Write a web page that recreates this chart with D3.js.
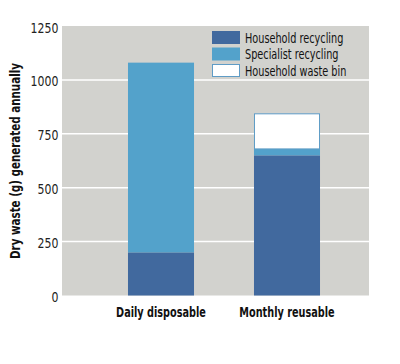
<!DOCTYPE html>
<html>
<head>
<meta charset="utf-8">
<script src="https://cdn.jsdelivr.net/npm/d3@7"></script>
<style>
  html, body { margin: 0; padding: 0; background: #ffffff; }
  svg { display: block; }
  text { font-family: 'DejaVu Sans Condensed', 'DejaVu Sans', sans-serif; font-stretch: condensed; }
</style>
</head>
<body>
<svg id="chart" width="400" height="364"></svg>
<script>
const categories = ["Daily disposable", "Monthly reusable"];
const seriesNames = ["Household recycling", "Specialist recycling", "Household waste bin"];
const householdRecycling = [200, 650];
const specialistRecycling = [880, 30];
const householdWasteBin = [0, 165];
const yTicks = [0, 250, 500, 750, 1000, 1250];

const colors = ["#41699e", "#53a2cb", "#ffffff"];
const strokes = [null, null, "#5f9cc6"];

const svg = d3.select("#chart");

const plot = { left: 62, right: 369, top: 26, bottom: 295.5 };

const y = d3.scaleLinear().domain([0, 1250]).range([plot.bottom, plot.top]);
const x = d3.scaleBand().domain(categories).range([98, 350]).paddingInner(0.476).paddingOuter(0.238);

// background
svg.append("rect").attr("x", plot.left).attr("y", plot.top)
  .attr("width", plot.right - plot.left).attr("height", plot.bottom - plot.top)
  .attr("fill", "#d2d2ce");

// gridlines
svg.append("g").selectAll("line").data(yTicks.filter(d => d > 0 && d < 1250)).join("line")
  .attr("x1", plot.left).attr("x2", plot.right)
  .attr("y1", d => y(d)).attr("y2", d => y(d))
  .attr("stroke", "#ffffff").attr("stroke-width", 1.5);

// y axis
const yAxis = d3.axisLeft(y).tickValues(yTicks).tickFormat(d3.format("d")).tickSize(0).tickPadding(4);
const ga = svg.append("g").attr("transform", `translate(${plot.left},0)`).call(yAxis);
ga.select(".domain").remove();
ga.selectAll("text").attr("font-family", null).attr("font-size", 13.5).attr("fill", "#222")
  .attr("dy", "0.45em").attr("transform", "scale(0.9,1)");

// stacked data
const rows = categories.map((c, i) => ({
  cat: c,
  "Household recycling": householdRecycling[i],
  "Specialist recycling": specialistRecycling[i],
  "Household waste bin": householdWasteBin[i]
}));
const stack = d3.stack().keys(seriesNames)(rows);

stack.forEach((layer, li) => {
  svg.append("g").selectAll("rect").data(layer.filter(d => d[1] - d[0] > 0)).join("rect")
    .attr("x", d => x(d.data.cat) + (strokes[li] ? 0.5 : 0))
    .attr("width", d => x.bandwidth() - (strokes[li] ? 1 : 0))
    .attr("y", d => y(d[1]) + (strokes[li] ? 0.5 : 0))
    .attr("height", d => y(d[0]) - y(d[1]) - (strokes[li] ? 0.5 : 0))
    .attr("fill", colors[li])
    .attr("stroke", strokes[li] || "none")
    .attr("stroke-width", 1);
});

// x axis labels
const xAxis = d3.axisBottom(x).tickSize(0).tickPadding(12);
const gx = svg.append("g").attr("transform", `translate(0,${plot.bottom})`).call(xAxis);
gx.select(".domain").remove();
gx.selectAll("text").attr("font-family", null).attr("font-size", 13.5)
  .attr("font-weight", "bold").attr("fill", "#111").attr("transform", "scale(0.8,1)");

// y title
svg.append("text")
  .attr("transform", `translate(20,161) rotate(-90) scale(0.85,1)`)
  .attr("text-anchor", "middle")
  .attr("font-size", 13.5).attr("font-weight", "bold")
  .attr("fill", "#111")
  .text("Dry waste (g) generated annually");

// legend
const legend = svg.append("g").attr("transform", "translate(212,31)");
seriesNames.forEach((name, i) => {
  const g = legend.append("g").attr("transform", `translate(0,${i * 16.5})`);
  g.append("rect").attr("x", strokes[i] ? 0.5 : 0).attr("y", strokes[i] ? 0.5 : 0)
    .attr("width", strokes[i] ? 27 : 28).attr("height", strokes[i] ? 12 : 13)
    .attr("fill", colors[i]).attr("stroke", strokes[i] || "none");
  g.append("text").attr("transform", "translate(33,11.5) scale(0.8,1)")
    .attr("font-size", 13.5).attr("fill", "#111")
    .text(name);
});
</script>
</body>
</html>
